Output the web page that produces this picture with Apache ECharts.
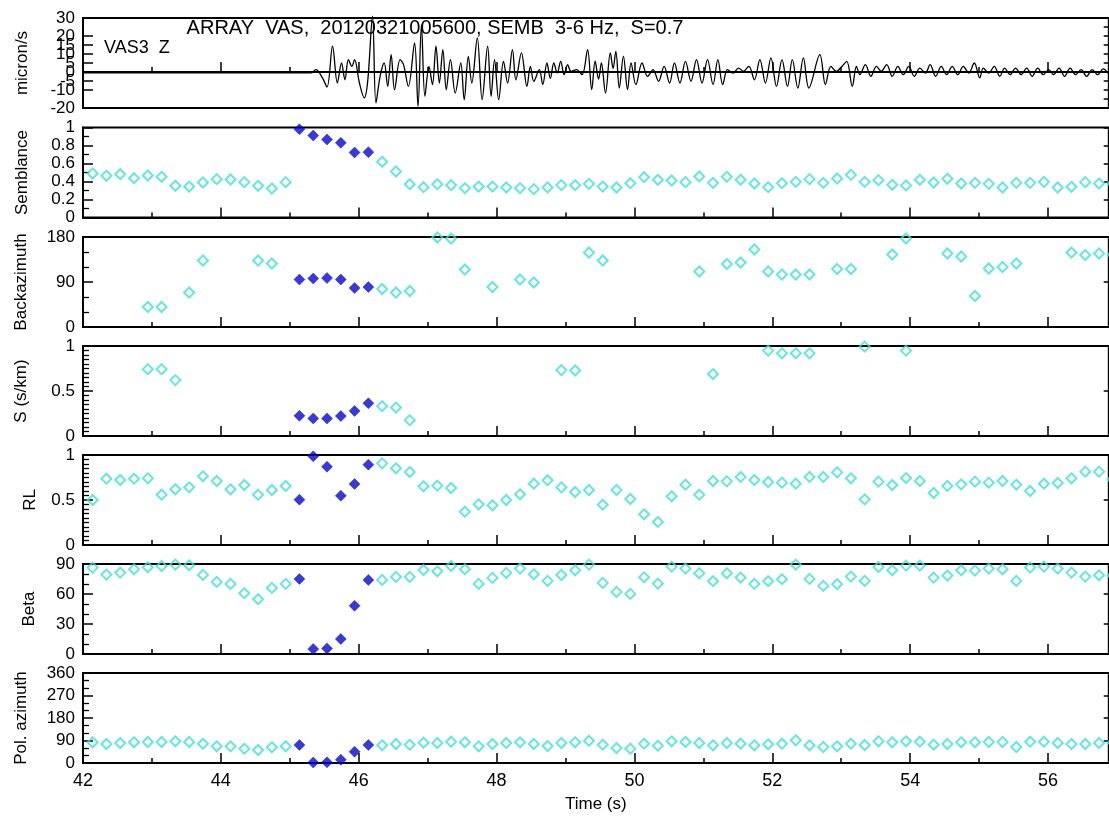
<!DOCTYPE html>
<html><head><meta charset="utf-8">
<script src="https://cdn.jsdelivr.net/npm/echarts@6/dist/echarts.min.js"></script>
<style>html,body{margin:0;padding:0;background:#fff;overflow:hidden}#c{width:1109px;height:818px}</style>
</head><body><div id="c"></div>
<script>
const FONT = '"Liberation Sans", Arial, Helvetica, sans-serif';
const titleText = 'ARRAY  VAS,  20120321005600, SEMB  3-6 Hz,  S=0.7';
const stationText = 'VAS3  Z';
const xMajorTicks = [42, 44, 46, 48, 50, 52, 54, 56];
const xMinorTicks = [43, 45, 47, 49, 51, 53, 55];
const seisTickLabels = [-20, -15, -10, -5, 0, 5, 10, 15, 20, 25, 30];
const panelNames = ['micron/s', 'Semblance', 'Backazimuth', 'S (s/km)', 'RL', 'Beta', 'Pol. azimuth'];

const times = [42.14,42.34,42.54,42.74,42.94,43.14,43.34,43.54,43.74,43.94,44.14,44.34,44.54,44.74,44.94,45.14,45.34,45.54,45.74,45.94,46.14,46.34,46.54,46.74,46.94,47.14,47.34,47.54,47.74,47.94,48.14,48.34,48.54,48.74,48.94,49.14,49.34,49.54,49.74,49.94,50.14,50.34,50.54,50.74,50.94,51.14,51.34,51.54,51.74,51.94,52.14,52.34,52.54,52.74,52.94,53.14,53.34,53.54,53.74,53.94,54.14,54.34,54.54,54.74,54.94,55.14,55.34,55.54,55.74,55.94,56.14,56.34,56.54,56.74,56.94];
const darkIdx = [15, 16, 17, 18, 19, 20];

const semblance = [.489,.463,.481,.437,.467,.452,.352,.344,.389,.426,.422,.393,.352,.322,.393,.98,.911,.867,.83,.722,.726,.619,.511,.37,.337,.37,.359,.326,.344,.344,.333,.326,.315,.333,.36,.359,.374,.344,.333,.381,.448,.419,.411,.393,.456,.385,.452,.419,.378,.337,.381,.396,.426,.385,.433,.474,.396,.415,.363,.356,.419,.389,.43,.378,.385,.374,.333,.385,.385,.396,.333,.341,.393,.378,.38];
const backazimuth = [null,null,null,null,40,40,null,69,133,null,null,null,133,127,null,95,97,98,95,78,80,76,69,72,null,179,177,115,null,80,null,95,89,null,null,null,149,133,null,null,null,null,null,null,111,null,126,129,155,111,105,105,105,null,116,116,null,null,145,177,null,null,147,141,62,117,120,127,null,null,null,149,144,147,145];
const slowness = [null,null,null,null,.743,.743,.621,null,null,null,null,null,null,null,null,.224,.195,.195,.221,.279,.364,.331,.316,.176,null,null,null,null,null,null,null,null,null,null,.732,.728,null,null,null,null,null,null,null,null,null,.688,null,null,null,.949,.919,.919,.919,null,null,null,.993,null,null,.949,null,null,null,null,null,null,null,null,null,null,null,null,null,null,null];
const rl = [.5,.737,.722,.737,.741,.559,.619,.641,.763,.711,.619,.667,.559,.611,.656,.504,.985,.87,.548,.678,.893,.907,.852,.811,.652,.659,.633,.37,.452,.441,.5,.563,.681,.72,.64,.589,.611,.448,.611,.511,.341,.256,.541,.67,.559,.711,.707,.756,.722,.7,.693,.681,.756,.756,.807,.741,.507,.704,.667,.744,.711,.578,.656,.674,.704,.693,.711,.67,.6,.681,.689,.741,.815,.815,.73];
const beta = [86.4,79.4,81.4,84.7,86.7,88,89.4,88.7,79.1,72.1,70.1,60.8,54.8,66.1,70.1,75.1,5,5.6,15,48.2,74.1,74.1,77.1,77.1,84,82.7,88,84.7,70.1,76.1,81.1,85.4,79.7,73.1,79,83.7,89.4,71.1,62.1,60.1,76.7,70.4,87.4,85.4,80.7,72.8,80.7,76.4,70.1,72.8,74.8,89.4,75.1,68.1,69.8,77.4,73.1,87,83.7,88.4,88.4,76.4,78.4,83.7,83.4,85.4,84.7,73.1,86.4,87.4,85.4,81.4,77.4,78.7,78.7];
const polAzimuth = [82.7,76,80,82.7,84,84,86.7,84,77.3,66.7,66.7,57.3,52,62.7,66.7,72,2,2.7,13.3,45.3,72,70.7,76,73.3,81.3,80,85.3,82.7,66.7,76,80,82.7,76,68,80,82.7,89.3,73.3,60,57.3,77.3,69.3,86.7,84,80,70.7,80,77.3,70.7,74.7,77.3,90.7,70.7,64,66.7,77.3,72,86.7,82.7,86.7,85.3,73.3,76,82.7,82.7,84,84,64,85.3,85.3,80,76,76,80,82];

const seisT = [42,45.31,45.38,45.47,45.54,45.62,45.69,45.75,45.80,45.85,45.90,45.94,46.01,46.08,46.13,46.20,46.25,46.31,46.37,46.42,46.47,46.52,46.60,46.65,46.72,46.81,46.86,46.91,46.96,47.02,47.07,47.12,47.17,47.22,47.27,47.33,47.40,47.48,47.53,47.59,47.64,47.72,47.79,47.87,47.92,47.97,48.03,48.10,48.16,48.23,48.28,48.36,48.44,48.49,48.54,48.62,48.67,48.73,48.78,48.83,48.88,48.93,48.98,49.03,49.08,49.16,49.24,49.32,49.38,49.43,49.48,49.52,49.58,49.65,49.69,49.73,49.78,49.84,49.90,49.95,50.02,50.11,50.19,50.27,50.35,50.43,50.51,50.58,50.66,50.74,50.82,50.90,50.98,51.06,51.14,51.21,51.28,51.35,51.43,51.51,51.58,51.66,51.74,51.82,51.90,51.98,52.06,52.14,52.22,52.29,52.37,52.45,52.53,52.69,52.77,52.85,52.93,53.01,53.08,53.16,53.22,53.27,53.35,53.43,53.51,53.58,53.66,53.74,53.82,53.90,53.98,54.06,54.14,54.22,54.29,54.37,54.45,54.53,54.61,54.69,54.77,54.85,54.93,55.01,55.06,55.14,55.22,55.30,55.37,55.45,55.53,55.61,55.69,55.77,55.85,55.93,56.01,56.08,56.16,56.24,56.32,56.40,56.48,56.56,56.64,56.72,56.80,56.87];
const seisV = [-0.5,-0.5,1.3,-3,-8.3,14.3,-6.1,5,-4.3,6.9,3.1,6.9,-6.1,-14.4,-5.2,31,-17.2,-2.4,5,-8,9.6,-9.8,6.9,4.1,-8,16.1,-19.1,26.3,-13.5,3.1,-7,14.3,-6.1,12.4,-9.8,6.9,-11.7,5,-15.4,8.7,-6.1,18.9,-15.4,14.3,-13.5,6.9,-15.4,5.9,-6.1,12.4,-4.3,10.6,-8,3.1,-5.2,1.3,-7,5,-3.5,5,-0.5,5.9,-1.5,4.1,0.4,1.3,-1.5,12.4,-9.8,6,-4,5,-11.7,10.6,2,11.5,-8.9,8.7,-9.8,5,-7,5,-2.4,1.3,-5.2,3.1,-6.1,5,-6.1,5.9,-5.2,6.9,-6.1,6.9,-7,6.9,-7,1.3,-0.6,2.2,0.4,3.1,-4.3,6.9,-6.1,7.8,-8,6.9,-8,6.9,-8.9,7.8,-8.9,9.6,-7,3.1,0.4,3.1,5.9,-8,3.1,-1.5,4.1,-2.4,3.1,0.4,4.1,-2.4,3.1,-1.5,3.1,-2.4,2.2,-0.6,4.1,-2.4,3.1,-1.5,3.1,-1.5,3.1,-0.6,5,-3.3,2.2,-0.6,3.1,-2.4,2.2,-1.5,2.2,-1.5,2.2,-2.4,2.2,-1.5,1.3,-1.5,2.2,-2.4,2.2,-1.5,1.3,-2.4,1.3,-1.5,1.7,-0.6];

const panelTops = [18, 127.5, 237, 346, 455, 564, 673];
const panelH = 90;
const plotLeft = 83, plotW = 1025.7;
const X_MIN = 42, X_MAX = 56.88;

const yConf = [
  {min: -20, max: 30, interval: 5, minor: 1, gap: 52, labels: seisTickLabels},
  {min: 0, max: 1, interval: 0.2, minor: 2, gap: 52},
  {min: 0, max: 180, interval: 90, minor: 3, gap: 53},
  {min: 0, max: 1, interval: 0.5, minor: 10, gap: 53},
  {min: 0, max: 1, interval: 0.5, minor: 10, gap: 44},
  {min: 0, max: 90, interval: 30, minor: 3, gap: 45},
  {min: 0, max: 360, interval: 90, minor: 3, gap: 53}
];
const panelValues = [null, semblance, backazimuth, slowness, rl, beta, polAzimuth];

const grids = [], xAxes = [], yAxes = [], series = [];
const darkSet = new Set(darkIdx);
for (let p = 0; p < 7; p++) {
  grids.push({left: plotLeft, top: panelTops[p], width: plotW, height: panelH, show: true, borderColor: '#000', borderWidth: 1.8, backgroundColor: 'transparent'});
  const last = p === 6;
  xAxes.push({gridIndex: p, type: 'value', min: X_MIN, max: X_MAX, position: 'bottom',
    axisLine: {show: true, lineStyle: {color: '#000', width: 1.8}},
    axisTick: {show: true, inside: true, length: 10, customValues: xMajorTicks, lineStyle: {color: '#000', width: 1.5}},
    axisLabel: {show: last, customValues: xMajorTicks, margin: 9, color: '#000', fontSize: 18, fontFamily: FONT},
    splitLine: {show: false},
    name: last ? 'Time (s)' : '', nameLocation: 'middle', nameGap: 33,
    nameTextStyle: {color: '#000', fontSize: 17, fontFamily: FONT}});
  xAxes.push({gridIndex: p, type: 'value', min: X_MIN, max: X_MAX, position: 'bottom',
    axisLine: {show: false},
    axisTick: {show: true, inside: true, length: 5, customValues: xMinorTicks, lineStyle: {color: '#000', width: 1.5}},
    axisLabel: {show: false}, splitLine: {show: false}});
  const c = yConf[p];
  const yLabel = {show: true, margin: 8, color: '#000', fontSize: 17, fontFamily: FONT, hideOverlap: false, showMinLabel: true, showMaxLabel: true};
  if (c.labels) yLabel.customValues = c.labels;
  yAxes.push({gridIndex: p, type: 'value', min: c.min, max: c.max, interval: c.interval, position: 'left',
    axisLine: {show: true, lineStyle: {color: '#000', width: 1.8}},
    axisTick: {show: true, inside: true, length: 10, lineStyle: {color: '#000', width: 1.5}},
    minorTick: {show: c.minor > 1, splitNumber: c.minor, length: 6, lineStyle: {color: '#000', width: 1.3}},
    axisLabel: yLabel,
    splitLine: {show: false},
    name: panelNames[p], nameLocation: 'middle', nameGap: c.gap, nameRotate: 90,
    nameTextStyle: {color: '#000', fontSize: 17, fontFamily: FONT}});
  yAxes.push({gridIndex: p, type: 'value', min: c.min, max: c.max, interval: c.interval, position: 'right',
    axisLine: {show: false},
    axisTick: {show: true, inside: true, length: 5, lineStyle: {color: '#000', width: 1.5}},
    axisLabel: {show: false}, splitLine: {show: false}});
  const xi = 2 * p, yi = 2 * p;
  if (p === 0) {
    series.push({type: 'line', xAxisIndex: xi, yAxisIndex: yi, data: seisT.map((t, i) => [t, seisV[i]]),
      showSymbol: false, smooth: 0.35, clip: false, lineStyle: {color: '#000', width: 1.3}, silent: true});
  } else {
    const vals = panelValues[p];
    const cyan = [], dark = [];
    times.forEach((t, i) => {
      if (vals[i] == null) return;
      (darkSet.has(i) ? dark : cyan).push([t, vals[i]]);
    });
    series.push({type: 'scatter', xAxisIndex: xi, yAxisIndex: yi, data: cyan, symbol: 'diamond', symbolSize: 10, clip: false,
      itemStyle: {color: 'rgba(255,255,255,0)', borderColor: '#40e0d4', borderWidth: 2}, silent: true});
    series.push({type: 'scatter', xAxisIndex: xi, yAxisIndex: yi, data: dark, symbol: 'diamond', symbolSize: 11, clip: false,
      itemStyle: {color: '#0808cc', borderColor: '#0808cc', borderWidth: 0.5}, silent: true});
  }
}

const chart = echarts.init(document.getElementById('c'), null, {renderer: 'canvas'});
chart.setOption({
  backgroundColor: '#fff',
  animation: false,
  grid: grids, xAxis: xAxes, yAxis: yAxes, series: series,
  graphic: [
    {type: 'text', x: 435, y: 28, style: {text: titleText, fill: '#000', fontSize: 20, fontFamily: FONT, textAlign: 'center', textVerticalAlign: 'middle', align: 'center', verticalAlign: 'middle'}},
    {type: 'text', x: 104, y: 48, style: {text: stationText, fill: '#000', fontSize: 18, fontFamily: FONT, textAlign: 'left', textVerticalAlign: 'middle', align: 'left', verticalAlign: 'middle'}}
  ]
});
</script></body></html>
